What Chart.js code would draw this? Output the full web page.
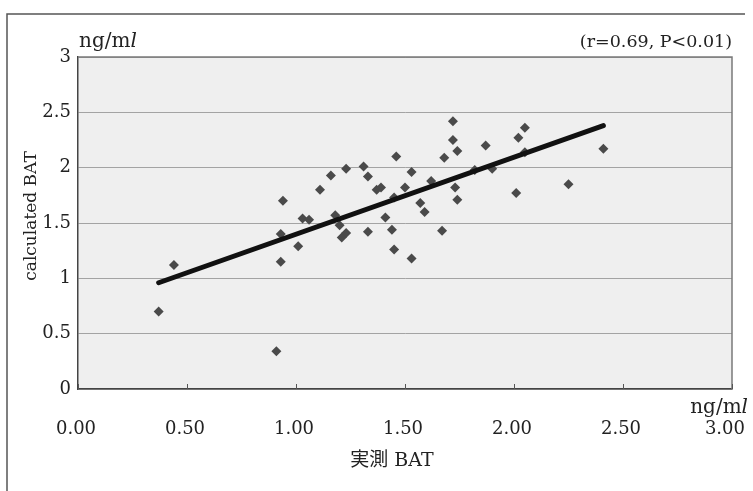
<!DOCTYPE html>
<html>
<head>
<meta charset="utf-8">
<title>BAT</title>
<script src="https://cdn.jsdelivr.net/npm/chart.js@4.4.1/dist/chart.umd.min.js"></script>
<style>
  html, body { margin: 0; padding: 0; background: #fff; }
  #wrap { position: relative; width: 753px; height: 491px; }
</style>
</head>
<body>
<div id="wrap"><canvas id="bat-chart"></canvas></div>
<script>
// measured BAT (x) against calculated BAT (y), both in ng/ml
const measuredBAT = [
    0.37, 0.44, 0.91, 0.93, 0.93, 0.94, 1.01, 1.03, 1.06, 1.11,
    1.16, 1.18, 1.20, 1.21, 1.23, 1.23, 1.31, 1.33, 1.33, 1.37,
    1.39, 1.41, 1.44, 1.45, 1.45, 1.46, 1.50, 1.53, 1.53, 1.57,
    1.59, 1.62, 1.67, 1.68, 1.72, 1.72, 1.74, 1.73, 1.74, 1.82,
    1.87, 1.90, 2.01, 2.02, 2.05, 2.05, 2.25, 2.41
];
const calculatedBAT = [
    0.70, 1.12, 0.34, 1.15, 1.40, 1.70, 1.29, 1.54, 1.53, 1.80,
    1.93, 1.57, 1.48, 1.37, 1.41, 1.99, 2.01, 1.92, 1.42, 1.80,
    1.82, 1.55, 1.44, 1.26, 1.73, 2.10, 1.82, 1.18, 1.96, 1.68,
    1.60, 1.88, 1.43, 2.09, 2.42, 2.25, 2.15, 1.82, 1.71, 1.98,
    2.20, 1.99, 1.77, 2.27, 2.36, 2.14, 1.85, 2.17
];

// regression line end points
const fitX = [0.37, 2.41];
const fitY = [0.96, 2.38];

const corrText = '(r=0.69, P<0.01)';
const xTitle = '実測 BAT';
const yTitle = 'calculated BAT';

const SERIF = '"DejaVu Serif", "Noto Sans CJK JP", serif';
const INK = '#222';

// draws "ng/ml" with an italic l
function drawUnit(ctx, x, y, align) {
    const upright = `20px ${SERIF}`;
    const italic = `italic 20px ${SERIF}`;
    ctx.font = upright;
    const w1 = ctx.measureText('ng/m').width;
    ctx.font = italic;
    const w2 = ctx.measureText('l').width;
    const left = align === 'right' ? x - w1 - w2 : x;
    ctx.textAlign = 'left';
    ctx.font = upright;
    ctx.fillText('ng/m', left, y);
    ctx.font = italic;
    ctx.fillText('l', left + w1, y);
}

const chartDecor = {
    id: 'chartDecor',
    beforeDraw(chart) {
        const { ctx, chartArea: a } = chart;
        ctx.save();
        ctx.fillStyle = '#efefef';
        ctx.fillRect(a.left, a.top, a.right - a.left, a.bottom - a.top);
        ctx.restore();
    },
    beforeDatasetsDraw(chart) {
        const { ctx, chartArea: a, scales } = chart;
        ctx.save();
        // top and right edges of the plot
        ctx.strokeStyle = '#7a7a7a';
        ctx.lineWidth = 1.5;
        ctx.beginPath();
        ctx.moveTo(a.left, a.top);
        ctx.lineTo(a.right, a.top);
        ctx.lineTo(a.right, a.bottom);
        ctx.stroke();
        // short inward ticks on the x axis
        ctx.strokeStyle = '#555';
        ctx.lineWidth = 1;
        scales.x.ticks.forEach(t => {
            const px = Math.round(scales.x.getPixelForValue(t.value)) + 0.5;
            ctx.beginPath();
            ctx.moveTo(px, a.bottom);
            ctx.lineTo(px, a.bottom - 5);
            ctx.stroke();
        });
        ctx.restore();
    },
    afterDraw(chart) {
        const { ctx, chartArea: a, scales } = chart;
        ctx.save();
        // outer frame (top and left)
        ctx.strokeStyle = '#555';
        ctx.lineWidth = 1.5;
        ctx.beginPath();
        ctx.moveTo(7, chart.height);
        ctx.lineTo(7, 14);
        ctx.lineTo(745, 14);
        ctx.stroke();

        ctx.fillStyle = INK;
        ctx.textBaseline = 'alphabetic';

        // x tick labels; the last one is pulled in to stay inside the frame
        ctx.font = `18px ${SERIF}`;
        const xt = scales.x.ticks;
        xt.forEach((t, i) => {
            const label = t.value.toFixed(2);
            const px = scales.x.getPixelForValue(t.value);
            if (i === xt.length - 1) {
                ctx.textAlign = 'right';
                ctx.fillText(label, 745, 434);
            } else {
                ctx.textAlign = 'center';
                ctx.fillText(label, px - 2, 434);
            }
        });

        drawUnit(ctx, a.left + 1, 47, 'left');
        drawUnit(ctx, 748, 413, 'right');

        ctx.font = `17.5px ${SERIF}`;
        ctx.textAlign = 'right';
        ctx.fillText(corrText, a.right, 47);

        ctx.textAlign = 'center';
        ctx.textBaseline = 'middle';
        ctx.font = `19px ${SERIF}`;
        ctx.fillText(xTitle, 392, 461);

        ctx.translate(32, 216);
        ctx.rotate(-Math.PI / 2);
        ctx.font = `17px ${SERIF}`;
        ctx.fillText(yTitle, 0, 0);
        ctx.restore();
    }
};

const points = measuredBAT.map((x, i) => ({ x, y: calculatedBAT[i] }));
const fitLine = fitX.map((x, i) => ({ x, y: fitY[i] }));

new Chart(document.getElementById('bat-chart'), {
    type: 'scatter',
    data: {
        datasets: [
            {
                type: 'line',
                label: 'fit',
                data: fitLine,
                borderColor: '#111',
                borderWidth: 5,
                borderCapStyle: 'round',
                pointRadius: 0,
                fill: false
            },
            {
                label: 'BAT',
                data: points,
                pointStyle: 'rectRot',
                pointRadius: 5,
                pointBorderWidth: 0,
                backgroundColor: '#4a4a4a',
                borderColor: '#4a4a4a'
            }
        ]
    },
    options: {
        responsive: true,
        maintainAspectRatio: false,
        animation: false,
        events: [],
        layout: { padding: { top: 57, right: 21, bottom: 0, left: 0 } },
        plugins: {
            legend: { display: false },
            tooltip: { enabled: false }
        },
        scales: {
            x: {
                type: 'linear',
                min: 0,
                max: 3,
                afterFit: s => {
                    s.height = 102;
                    s.paddingLeft = 0;
                    s.paddingRight = 0;
                },
                ticks: { stepSize: 0.5, display: false },
                grid: { drawOnChartArea: false, drawTicks: false },
                border: { color: '#444', width: 1.5 }
            },
            y: {
                min: 0,
                max: 3,
                afterFit: s => {
                    s.width = 78;
                    s.paddingTop = 0;
                    s.paddingBottom = 0;
                },
                ticks: {
                    stepSize: 0.5,
                    padding: 7,
                    color: INK,
                    font: { family: SERIF, size: 18 },
                    callback: v => String(v)
                },
                grid: { color: '#a3a3a3', lineWidth: 1, drawTicks: false },
                border: { color: '#444', width: 1.5 }
            }
        }
    },
    plugins: [chartDecor]
});
</script>
</body>
</html>
